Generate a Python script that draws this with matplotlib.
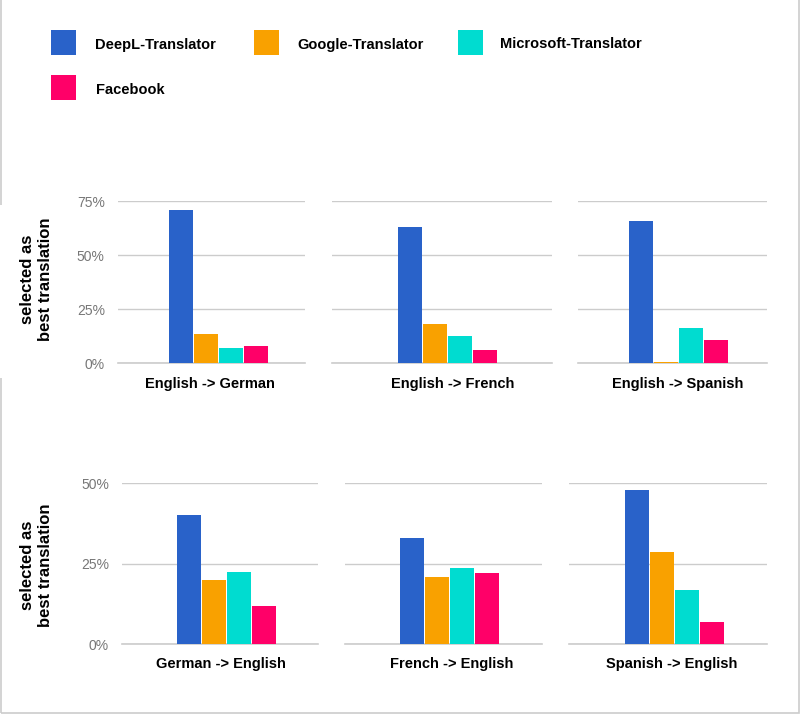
import matplotlib
matplotlib.use("Agg")
import matplotlib.pyplot as plt
from matplotlib.patches import Rectangle
from matplotlib.ticker import FuncFormatter

W, H = 802, 717

# data (share selected as best translation, %)
series = ["DeepL-Translator", "Google-Translator", "Microsoft-Translator", "Facebook"]
colors = ["#2962c9", "#f9a100", "#00dcd0", "#ff0068"]

pairs = ["English -> German", "English -> French", "English -> Spanish",
         "German -> English", "French -> English", "Spanish -> English"]
deepl = [71, 63, 66, 40, 33, 48]
google = [13.5, 18.2, 0.4, 20, 20.9, 28.6]
microsoft = [7.2, 12.6, 16.5, 22.4, 23.7, 16.8]
facebook = [8.1, 6.2, 10.8, 11.9, 22.1, 6.8]
y_max = [75, 75, 75, 50, 50, 50]
y_step = 25

values = [deepl, google, microsoft, facebook]

# layout in pixels: (left, right, top, bottom, left edge of first bar, label x)
boxes = [
    (118, 305, 201.3, 363.3, 168.2, 210),
    (331.7, 551.7, 201.3, 363.3, 397.8, 453),
    (578.3, 766.7, 201.3, 363.3, 628.8, 677.5),
    (122.3, 318.3, 483.3, 644, 176.8, 221),
    (345, 541.7, 483.3, 644, 399.8, 452),
    (569, 766.7, 483.3, 644, 624.8, 671.7),
]
slot = 25.0

bold = dict(family="Liberation Sans", fontweight="bold", color="black")

fig = plt.figure(figsize=(W / 100, H / 100), dpi=100)
fig.patch.set_facecolor("white")


def fx(x):
    return x / W


def fy(y):
    return 1 - y / H


for i, (x0, x1, y0, y1, bl, lx) in enumerate(boxes):
    ax = fig.add_axes([fx(x0), fy(y1), (x1 - x0) / W, (y1 - y0) / H])
    left = -0.5 - (bl - x0) / slot
    ax.set_xlim(left, left + (x1 - x0) / slot)
    ax.set_ylim(0, y_max[i])
    for k in range(4):
        ax.bar(k, values[k][i], width=0.96, color=colors[k], zorder=3)
    ax.set_yticks(range(0, y_max[i] + 1, y_step))
    ax.yaxis.set_major_formatter(FuncFormatter(lambda v, p: f"{int(v)}%"))
    ax.grid(axis="y", color="#cccccc", linewidth=1, zorder=0)
    ax.axhline(0, color="#cccccc", linewidth=1.2, zorder=2, clip_on=False)
    ax.set_xticks([])
    for s in ax.spines.values():
        s.set_visible(False)
    ax.tick_params(axis="y", length=0, pad=9.5, labelsize=10, labelcolor="#777777")
    for t in ax.get_yticklabels():
        t.set_family("Liberation Sans")
    if i % 3 != 0:
        ax.set_yticklabels([])
    ly = 384 if i < 3 else 664
    fig.text(fx(lx), fy(ly), pairs[i], ha="center", va="center", fontsize=10.5, **bold)

# y axis titles
for yc in [(201.3 + 363.3) / 2 - 3, (483.3 + 644) / 2 + 2]:
    fig.text(fx(37), fy(yc), "selected as\nbest translation", rotation=90,
             ha="center", va="center", fontsize=12, linespacing=1.25,
             multialignment="center", **bold)

# legend
legend_pos = [(51, 30, 95), (254, 30, 297), (458, 30, 500), (51, 75, 96)]
for (sx, sy, tx), name, c in zip(legend_pos, series, colors):
    fig.patches.append(Rectangle((fx(sx), fy(sy + 25)), 25 / W, 25 / H,
                                 transform=fig.transFigure, facecolor=c, edgecolor="none"))
    fig.text(fx(tx), fy(sy + 13), name, ha="left", va="center_baseline",
             fontsize=10.5, **bold)

# outer border
fig.patches.append(Rectangle((fx(1), fy(712.7)), (799.3 - 1) / W, (712.7 + 5) / H,
                             transform=fig.transFigure, facecolor="none",
                             edgecolor="#cccccc", linewidth=1.2))
fig.patches.append(Rectangle((0, fy(378)), 8 / W, (378 - 205) / H,
                             transform=fig.transFigure, facecolor="white",
                             edgecolor="none", zorder=5))

fig.savefig("out.png", dpi=100, facecolor="white")
